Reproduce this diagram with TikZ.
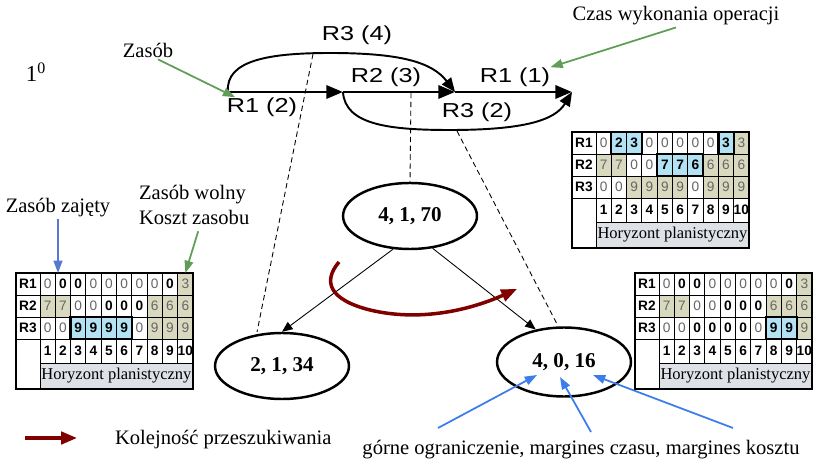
\documentclass[tikz,border=0pt]{standalone}
\usepackage{fontspec}
\setmainfont{Liberation Serif}
\newfontfamily\opfont[FakeStretch=1.25]{Liberation Sans}
\newfontfamily\cellfont{Liberation Sans}
\usetikzlibrary{arrows.meta,calc,shapes.geometric}
\definecolor{olivecell}{RGB}{217,217,191}
\definecolor{bluecell}{RGB}{178,226,244}
\definecolor{horgray}{RGB}{222,225,229}
\definecolor{darkred}{RGB}{128,0,0}
\definecolor{notegreen}{RGB}{96,158,88}
\definecolor{noteblue}{RGB}{60,125,235}
\definecolor{busyblue}{RGB}{88,120,210}
\def\cellbf{\cellfont\bfseries\fontsize{7.8}{8}\selectfont}
\tikzset{
  cell/.style={draw, line width=0.5pt, minimum width=0.306cm, minimum height=0.44cm,
    inner sep=0pt, outer sep=0pt, anchor=north west,
    font=\cellfont\fontsize{7.8}{8}\selectfont, text=black!60},
  cn/.style={fill=white},
  cb/.style={fill=white, text=black, font=\cellbf},
  co/.style={fill=olivecell},
  cu/.style={fill=bluecell, text=black, font=\cellbf},
  rlab/.style={cell, minimum width=0.48cm, fill=white, text=black, font=\cellbf},
  hl/.style={draw, line width=1.3pt},
  opline/.style={line width=1.7pt, -{Triangle[length=9.5pt,width=7.5pt]}},
  oparc/.style={line width=1.1pt, -{Triangle[length=8pt,width=6.5pt]}},
  oplab/.style={inner sep=0pt, font=\opfont\fontsize{11.5}{13}\selectfont},
  note/.style={inner sep=1pt, font=\fontsize{11.7}{14.7}\selectfont},
  bnode/.style={ellipse, draw, line width=1.4pt, minimum width=2.68cm, minimum height=1.32cm,
    inner sep=0pt, font=\bfseries\fontsize{12}{14}\selectfont},
  cut/.style={line width=0.5pt, dash pattern=on 3pt off 2pt},
  tree/.style={line width=0.5pt, -{Triangle[length=6pt,width=5pt]}},
  order/.style={draw=darkred, line width=2pt, -{Triangle[length=9pt,width=7pt]}},
  greenarr/.style={draw=notegreen, line width=1pt, -{Triangle[length=7pt,width=5pt]}},
  bluearr/.style={draw=noteblue, line width=1pt, -{Triangle[length=7pt,width=5pt]}}
}
% one row of a resource table: name, row, y, cells
\newcommand\resrow[4]{%
  \node[rlab] (#1-#2-0) at (0,#3) {R#2};
  \foreach \s/\v [count=\c] in {#4}
    \node[cell,c\s] (#1-#2-\c) at ({24+(\c-1)*15.3},#3) {\v};}
% resource table: name, position, R1, R2, R3
\newcommand\restable[5]{%
  \begin{scope}[shift={#2}]
    \resrow{#1}{1}{0}{#3}
    \resrow{#1}{2}{22}{#4}
    \resrow{#1}{3}{44}{#5}
    \node[rlab, minimum height=1.0cm] (#1-e) at (0,66) {};
    \foreach \c in {1,...,10}
      \node[cell, cb, minimum height=0.48cm] (#1-n\c) at ({24+(\c-1)*15.3},66) {\c};
    \node[cell, fill=horgray, text=black, minimum width=3.06cm, minimum height=0.52cm,
      font=\fontsize{9.4}{10}\selectfont] (#1-h) at (24,90) {Horyzont planistyczny};
    \draw[line width=1.3pt] (0,0) rectangle (177,116);
  \end{scope}}

\begin{document}
\begin{tikzpicture}[x=0.02cm,y=-0.02cm]
		%%%%% START %%%%%
		\useasboundingbox (0,0) rectangle (814,462);
		
		\node[note, font=\fontsize{13}{14}\selectfont] (lvl) at (36,72) {1\textsuperscript{0}};
		
		% operations
		\coordinate (n1) at (228,92);
		\coordinate (n2) at (343,92);
		\coordinate (n3) at (455,92);
		\coordinate (n4) at (572,92);
		\draw[opline] (n1) -- (n2);
		\draw[opline] (n2) -- (n3);
		\draw[opline] (n3) -- (n4);
		\draw[oparc] (n1) .. controls (225,60) and (270,53) .. (330,53) .. controls (400,53) and (432,62) .. (n3);
		\draw[oparc] (n2) .. controls (345,125) and (390,130) .. (450,130) .. controls (525,130) and (555,120) .. (n4);
		
		\node[oplab] (r34) at (357,35) {R3 (4)};
		\node[oplab] (r23) at (386,77) {R2 (3)};
		\node[oplab] (r11) at (515,77) {R1 (1)};
		\node[oplab] (r12) at (262,107) {R1 (2)};
		\node[oplab] (r32) at (477,112) {R3 (2)};
		
		\node[note] (zas) at (148,50) {Zasób};
		\node[note] (czas) at (676,16) {Czas wykonania operacji};
		\draw[greenarr] ($(zas.south)+(10,0)$) -- (r12.160);
		\draw[greenarr] (czas.south) -- (r11.north east);
		
		% search tree
		\node[bnode] (root) at (410,216) {4, 1, 70};
		\node[bnode, minimum height=1.32cm] (lft) at (282,366) {2, 1, 34};
		\node[bnode, minimum height=1.38cm] (rgt) at (564,362) {4, 0, 16};
		\draw[tree] (root.243) -- (lft.north);
		\draw[tree] (root.305) -- (rgt.131);
		
		\coordinate (a1) at (313,54);
		\coordinate (a2) at (411,93);
		\coordinate (a3) at (457,131);
		\coordinate (b1) at (257,332);
		\coordinate (b3) at (558,326);
		\draw[cut] (a1) -- (b1);
		\draw[cut] (a2) -- (root.north);
		\draw[cut] (a3) -- (b3);
		
		\draw[order] (339,262) .. controls (322,282) and (330,300) .. (370,310) .. controls (420,322) and (470,310) .. (517,289);
		
		% tables
		\restable{ta}{(572,132)}
		  {n/0,u/2,u/3,n/0,n/0,n/0,n/0,n/0,u/3,o/3}
		  {o/7,o/7,n/0,n/0,u/7,u/7,u/6,o/6,o/6,o/6}
		  {n/0,n/0,o/9,o/9,o/9,o/9,n/0,o/9,o/9,o/9}
		\draw[hl] (ta-1-2.north west) rectangle (ta-1-3.south east);
		\draw[hl] (ta-1-9.north west) rectangle (ta-1-9.south east);
		\draw[hl] (ta-2-5.north west) rectangle (ta-2-7.south east);
		
		\restable{tb}{(16,273)}
		  {n/0,b/0,b/0,n/0,n/0,n/0,n/0,n/0,b/0,o/3}
		  {o/7,o/7,n/0,n/0,b/0,b/0,b/0,o/6,o/6,o/6}
		  {n/0,n/0,u/9,u/9,u/9,u/9,n/0,o/9,o/9,o/9}
		\draw[hl] (tb-3-3.north west) rectangle (tb-3-6.south east);
		
		\restable{tc}{(635,273)}
		  {n/0,b/0,b/0,n/0,n/0,n/0,n/0,n/0,b/0,o/3}
		  {o/7,o/7,n/0,n/0,b/0,b/0,b/0,o/6,o/6,o/6}
		  {n/0,n/0,b/0,b/0,b/0,b/0,n/0,u/9,u/9,o/9}
		\draw[hl] (tc-3-8.north west) rectangle (tc-3-9.south east);
		
		\node[note] (zaj) at (58,208) {Zasób zajęty};
		\draw[draw=busyblue, line width=1pt, -{Triangle[length=7pt,width=5pt]}] (zaj.south) -- (zaj.south |- tb-1-2.north);
		\node[note, align=left, anchor=west] (wol) at (137,205) {Zasób wolny\\Koszt zasobu};
		\draw[greenarr] ($(wol.south)+(4,4)$) -- (tb-1-10.north);
		
		% legend
		\coordinate (lg1) at (25,438);
		\coordinate (lg2) at (77,438);
		\draw[order] (lg1) -- (lg2);
		\node[note, anchor=west] (kol) at (113,440) {Kolejność przeszukiwania};
		\node[note] (lim) at (581,450) {górne ograniczenie, margines czasu, margines kosztu};
		\coordinate (g1) at (438,428);
		\coordinate (g2) at (591,432);
		\coordinate (g3) at (733,428);
		\draw[bluearr] (g1) -- ($(rgt)+(-27,13)$);
		\draw[bluearr] (g2) -- ($(rgt)+(-4,15)$);
		\draw[bluearr] (g3) -- ($(rgt)+(29,13)$);
		
		%%%%% END %%%%%
\end{tikzpicture}
\end{document}
